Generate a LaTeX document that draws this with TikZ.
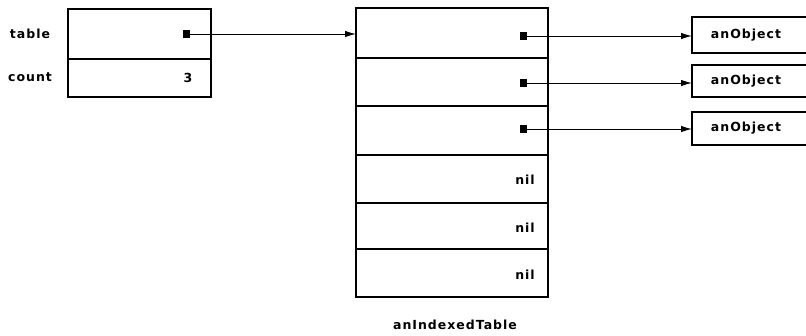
\documentclass[tikz,border=0pt]{standalone}
\usepackage{fontspec}
\newfontfamily\lbl[LetterSpace=8]{DejaVu Sans}
\usetikzlibrary{arrows.meta}
\begin{document}
\begin{tikzpicture}[x=1pt,y=-1pt,
  cell/.style={draw,line width=1.3pt,rectangle,outer sep=0pt,inner sep=0pt},
  txt/.style={font=\lbl\bfseries\fontsize{12.5}{14}\selectfont,inner sep=0pt},
  dot/.style={fill=black,rectangle,minimum width=7pt,minimum height=8pt,inner sep=0pt},
  ptr/.style={line width=1pt,-{Latex[length=11pt,width=6.5pt]}}]
\useasboundingbox (0,0) rectangle (806,335);
% left object
\node[cell,minimum width=143pt,minimum height=50pt] (tcell) at (139.5,34) {};
\node[cell,minimum width=143pt,minimum height=38pt] (ccell) at (139.5,78) {};
\node[txt] (tlab) at (30,34) {table};
\node[txt] (clab) at (30,77) {count};
\node[txt] (three) at (188,78) {3};
\node[dot] (d0) at (186,34) {};
% indexed table
\node[cell,minimum width=192pt,minimum height=50pt] (r1) at (452,33) {};
\node[cell,minimum width=192pt,minimum height=48pt] (r2) at (452,82) {};
\node[cell,minimum width=192pt,minimum height=49pt] (r3) at (452,130.5) {};
\node[cell,minimum width=192pt,minimum height=48pt] (r4) at (452,179) {};
\node[cell,minimum width=192pt,minimum height=46pt] (r5) at (452,226) {};
\node[cell,minimum width=192pt,minimum height=48pt] (r6) at (452,273) {};
\node[dot] (d1) at (523,36) {};
\node[dot] (d2) at (523,83) {};
\node[dot] (d3) at (523,129) {};
\node[txt] (n4) at (525,180) {nil};
\node[txt] (n5) at (525,228) {nil};
\node[txt] (n6) at (525,275) {nil};
\node[txt] (tname) at (455,325) {anIndexedTable};
% objects
\node[cell,minimum width=116pt,minimum height=36pt] (o1) at (750,35) {};
\node[cell,minimum width=116pt,minimum height=32pt] (o2) at (750,81) {};
\node[cell,minimum width=116pt,minimum height=33pt] (o3) at (750,128.5) {};
\node[txt] (o1t) at (746,35) {anObject};
\node[txt] (o2t) at (746,81) {anObject};
\node[txt] (o3t) at (746,128) {anObject};
% pointers
\draw[ptr] (d0.center) -- (d0 -| r1.west);
\draw[ptr] (d1.center) -- (d1 -| o1.west);
\draw[ptr] (d2.center) -- (d2 -| o2.west);
\draw[ptr] (d3.center) -- (d3 -| o3.west);
\end{tikzpicture}
\end{document}
